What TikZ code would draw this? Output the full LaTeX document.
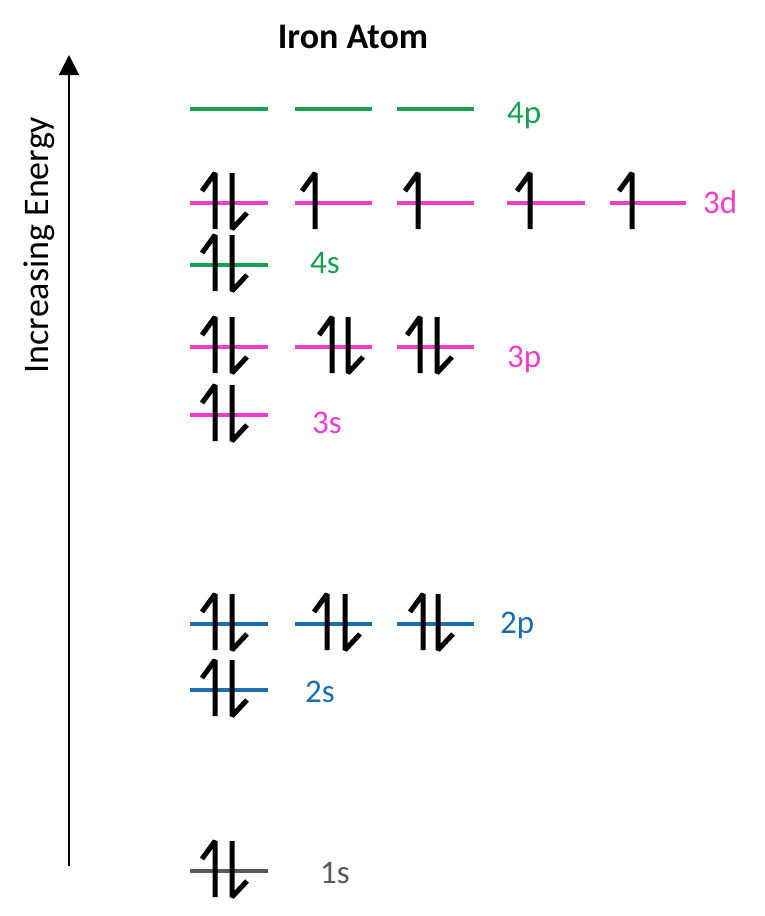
\documentclass[tikz,border=0pt]{standalone}
\usepackage{fontspec}
\setmainfont{Carlito}
\usetikzlibrary{arrows.meta}
\definecolor{lgreen}{HTML}{17A04F}
\definecolor{lmag}{HTML}{F23CCB}
\definecolor{lblue}{HTML}{1A6DAF}
\definecolor{lgray}{HTML}{595959}
\tikzset{
  lvl/.style={line width=4pt},
  elec/.style={line width=5pt, black, line join=bevel, line cap=butt},
  lbl/.style={font=\fontsize{33}{33}\selectfont, anchor=base west, inner sep=0pt},
}
\newcommand{\eup}[2]{\draw[elec] ({#1-13},{#2-12}) -- (#1,{#2-30}) -- (#1,{#2+26});}
\newcommand{\edown}[2]{\draw[elec] (#1,{#2-30}) -- (#1,{#2+26}) -- ({#1+15},{#2+10});}
\newcommand{\epair}[3]{\eup{#1}{#3}\edown{#2}{#3}}
\begin{document}
\begin{tikzpicture}[x=1pt,y=-1pt]
\useasboundingbox (0,0) rectangle (764,916);
% title
\node[font=\bfseries\fontsize{36}{36}\selectfont, anchor=base, inner sep=0pt] (title) at (353,48) {Iron Atom};
% energy axis
\coordinate (axbot) at (69,866);
\coordinate (axtop) at (69,55);
\draw[line width=2pt, -{Triangle[length=20pt,width=20pt]}] (axbot) -- (axtop);
\node[font=\fontsize{36}{36}\selectfont, rotate=90, anchor=base, inner sep=0pt] (axlbl) at (48,245) {Increasing Energy};
% 4p
\foreach \a/\b in {190/268,295/372,397/474} \draw[lvl,lgreen] (\a,109) -- (\b,109);
\node[lbl, text=lgreen] (l4p) at (507,123) {4p};
% 3d
\foreach \a/\b in {190/268,295/372,397/474,507/585,610/686} \draw[lvl,lmag] (\a,203) -- (\b,203);
\node[lbl, text=lmag] (l3d) at (703,213) {3d};
\epair{215}{232}{203}
\eup{315}{203}\eup{418}{203}\eup{530}{203}\eup{632}{203}
% 4s
\draw[lvl,lgreen] (190,265) -- (268,265);
\node[lbl, text=lgreen] (l4s) at (310,273) {4s};
\epair{215}{232}{265}
% 3p
\foreach \a/\b in {190/268,295/372,397/474} \draw[lvl,lmag] (\a,347) -- (\b,347);
\node[lbl, text=lmag] (l3p) at (507,367) {3p};
\epair{215}{232}{347}\epair{332}{348}{347}\epair{420}{437}{347}
% 3s
\draw[lvl,lmag] (190,415) -- (268,415);
\node[lbl, text=lmag] (l3s) at (312,433) {3s};
\epair{215}{232}{415}
% 2p
\foreach \a/\b in {190/268,295/372,397/474} \draw[lvl,lblue] (\a,624) -- (\b,624);
\node[lbl, text=lblue] (l2p) at (500,633) {2p};
\epair{215}{232}{624}\epair{327}{345}{624}\epair{423}{438}{624}
% 2s
\draw[lvl,lblue] (190,690) -- (268,690);
\node[lbl, text=lblue] (l2s) at (305,702) {2s};
\epair{215}{232}{690}
% 1s
\draw[lvl,lgray] (190,871) -- (268,871);
\node[lbl, text=lgray] (l1s) at (320,883) {1s};
\epair{215}{232}{871}
\end{tikzpicture}
\end{document}
